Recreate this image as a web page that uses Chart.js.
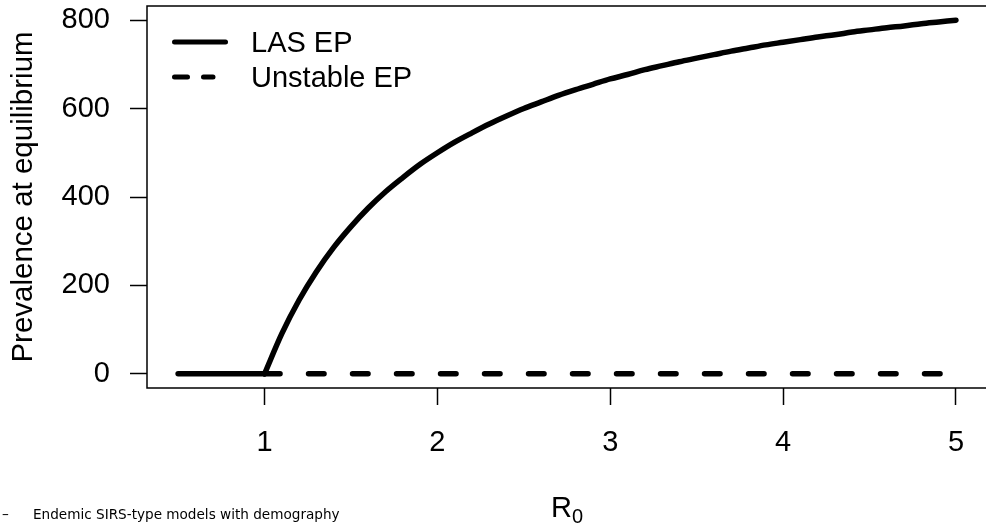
<!DOCTYPE html>
<html>
<head>
<meta charset="utf-8">
<title>Prevalence at equilibrium</title>
<script src="https://cdn.jsdelivr.net/npm/chart.js"></script>
<style>
  html, body { margin: 0; padding: 0; background: #fff; }
  #plot { display: block; }
</style>
</head>
<body>
<canvas id="plot" width="986" height="525"></canvas>
<script>
// Disease-free branch (R0 below 1)
var r0Low = [0.5, 1.0];
var prevLow = [0, 0];

// Locally asymptotically stable endemic equilibrium
var r0Las = [1.0, 1.1, 1.2, 1.3, 1.4, 1.5, 1.6, 1.7, 1.8, 1.9,
             2.0, 2.1, 2.2, 2.3, 2.4, 2.5, 2.6, 2.7, 2.8, 2.9,
             3.0, 3.1, 3.2, 3.3, 3.4, 3.5, 3.6, 3.7, 3.8, 3.9,
             4.0, 4.1, 4.2, 4.3, 4.4, 4.5, 4.6, 4.7, 4.8, 4.9, 5.0];
var prevLas = [0, 91, 167, 231, 286, 333, 375, 412, 444, 474,
               500, 524, 545, 565, 583, 600, 615, 630, 643, 655,
               667, 677, 688, 697, 706, 714, 722, 730, 737, 744,
               750, 756, 762, 767, 773, 778, 783, 787, 792, 796, 800];

// Disease-free equilibrium once it turns unstable
var r0Unstable = [1.0, 5.0];
var prevUnstable = [0, 0];

var xTickVals = [1, 2, 3, 4, 5];
var yTickVals = [0, 200, 400, 600, 800];
var legendLabels = ["LAS EP", "Unstable EP"];

var font = "'Liberation Sans', Arial, Helvetica, sans-serif";
var lw = 5.5;

function toPoints(xs, ys) {
  return xs.map(function (x, i) { return { x: x, y: ys[i] }; });
}

// box round the plot region (open on the right, like the cropped original)
var frame = {
  id: "frame",
  beforeDatasetsDraw: function (chart) {
    var a = chart.chartArea, c = chart.ctx;
    c.save();
    c.strokeStyle = "#000";
    c.lineWidth = 1.5;
    c.beginPath();
    c.moveTo(a.right + 5, a.top);
    c.lineTo(a.left, a.top);
    c.lineTo(a.left, a.bottom);
    c.lineTo(a.right + 5, a.bottom);
    c.stroke();
    c.restore();
  },
  afterDraw: function (chart) {
    var c = chart.ctx;
    c.save();
    c.fillStyle = "#000";
    c.strokeStyle = "#000";
    c.lineCap = "round";

    // legend
    var lx = 174.5, rows = [42, 77];
    c.lineWidth = 5;
    c.beginPath();
    c.moveTo(lx, rows[0]); c.lineTo(225.5, rows[0]);
    c.stroke();
    c.setLineDash([13, 16]);
    c.beginPath();
    c.moveTo(lx, rows[1]); c.lineTo(213, rows[1]);
    c.stroke();
    c.setLineDash([]);
    c.font = "29px " + font;
    c.textAlign = "left";
    c.textBaseline = "alphabetic";
    legendLabels.forEach(function (t, i) { c.fillText(t, 251, rows[i] + 10); });

    // x axis title, R with subscript 0
    var cx = chart.scales.x.getPixelForValue(2.75);
    c.font = "29px " + font;
    var wR = c.measureText("R").width;
    c.font = "20px " + font;
    var w0 = c.measureText("0").width;
    var sx = cx - (wR + w0) / 2;
    c.font = "29px " + font;
    c.fillText("R", sx, 517);
    c.font = "20px " + font;
    c.fillText("0", sx + wR, 523);

    // footer line
    c.font = "13.6px 'DejaVu Sans', sans-serif";
    c.fillText("\u2013", 2, 519);
    c.fillText("Endemic SIRS-type models with demography", 33, 519);
    c.restore();
  }
};

new Chart(document.getElementById("plot"), {
  type: "line",
  data: {
    datasets: [
      {
        label: legendLabels[1],
        data: toPoints(r0Unstable, prevUnstable),
        borderColor: "#000",
        borderWidth: lw,
        borderDash: [15.5, 28.5],
        borderCapStyle: "round",
        pointRadius: 0,
        fill: false
      },
      {
        label: legendLabels[0],
        data: toPoints(r0Low, prevLow),
        borderColor: "#000",
        borderWidth: lw,
        borderCapStyle: "round",
        pointRadius: 0,
        fill: false
      },
      {
        label: legendLabels[0],
        data: toPoints(r0Las, prevLas),
        borderColor: "#000",
        borderWidth: lw,
        borderCapStyle: "round",
        borderJoinStyle: "round",
        cubicInterpolationMode: "monotone",
        pointRadius: 0,
        fill: false
      }
    ]
  },
  options: {
    responsive: false,
    animation: false,
    devicePixelRatio: 1,
    layout: { padding: { top: 6, right: 1, bottom: 0, left: 0 } },
    plugins: {
      legend: { display: false },
      tooltip: { enabled: false }
    },
    scales: {
      x: {
        type: "linear",
        min: 0.32,
        max: 5.168,
        afterBuildTicks: function (s) { s.ticks = xTickVals.map(function (v) { return { value: v }; }); },
        afterFit: function (s) { s.height = 137; s.paddingLeft = 0; s.paddingRight = 0; },
        border: { display: false },
        grid: { drawOnChartArea: false, drawTicks: true, tickLength: 17, tickWidth: 1.5, tickColor: "#000" },
        ticks: { color: "#000", font: { family: font, size: 29 }, padding: 21, maxRotation: 0 }
      },
      y: {
        type: "linear",
        min: -32,
        max: 832,
        afterBuildTicks: function (s) { s.ticks = yTickVals.map(function (v) { return { value: v }; }); },
        afterFit: function (s) { s.width = 147; s.paddingTop = 0; s.paddingBottom = 0; },
        border: { display: false },
        grid: { drawOnChartArea: false, drawTicks: true, tickLength: 17, tickWidth: 1.5, tickColor: "#000" },
        ticks: { color: "#000", font: { family: font, size: 29 }, padding: 20 },
        title: {
          display: true,
          text: "Prevalence at equilibrium",
          color: "#000",
          font: { family: font, size: 29.5 },
          padding: { top: 6, bottom: 0 }
        }
      }
    }
  },
  plugins: [frame]
});
</script>
</body>
</html>
